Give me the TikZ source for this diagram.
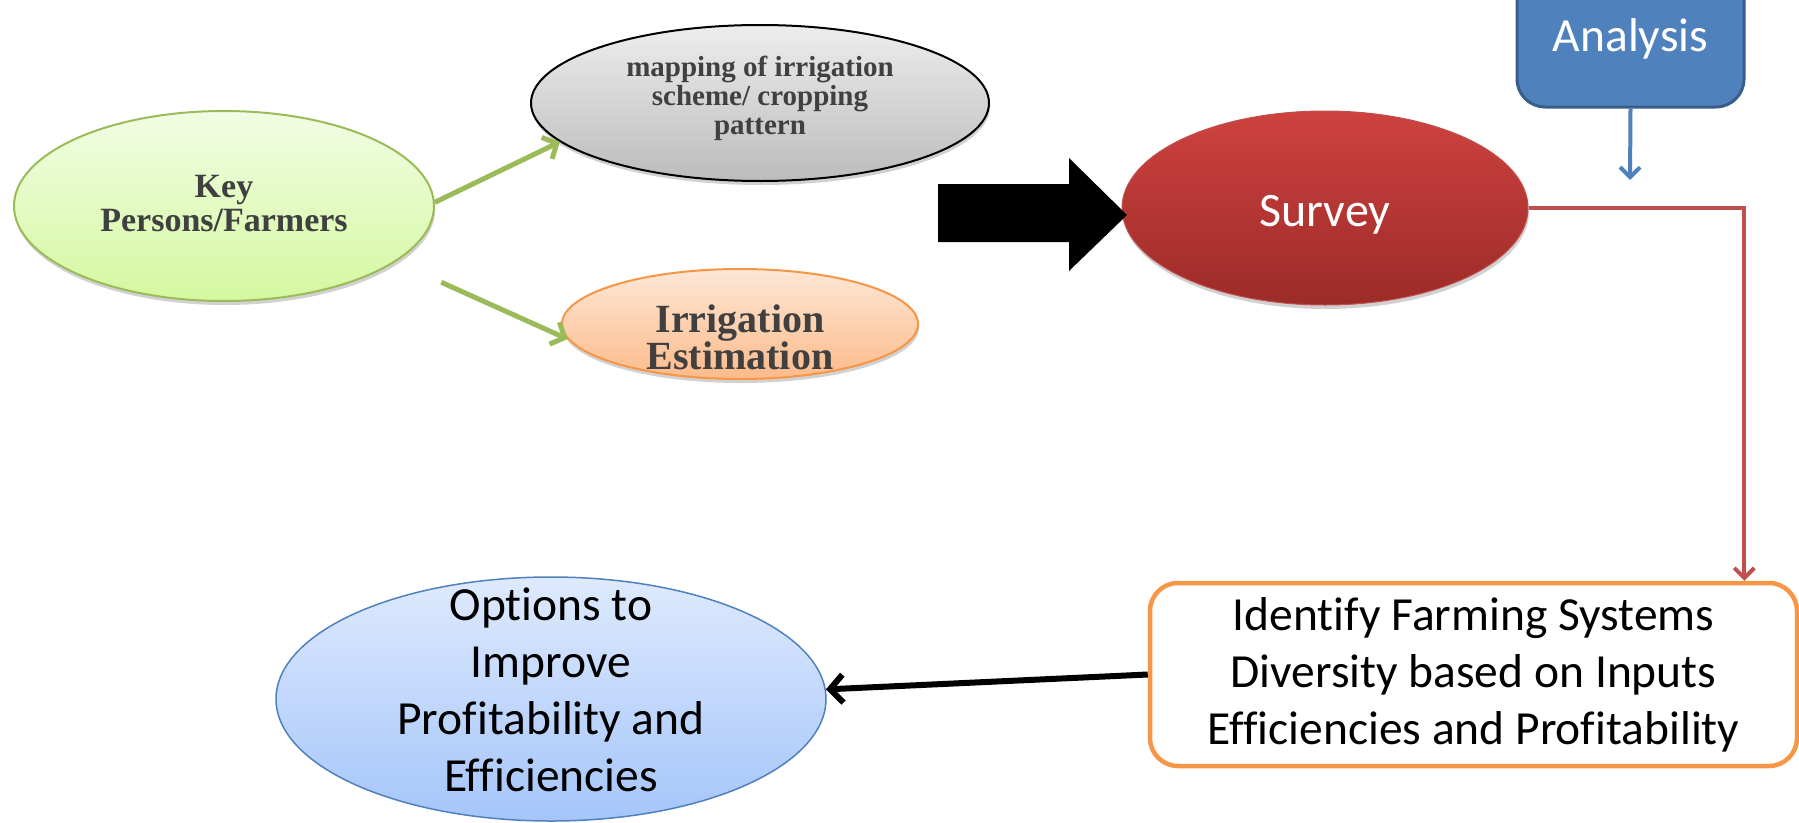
\documentclass[tikz,border=0pt]{standalone}
\usepackage{fontspec}
\setmainfont{Liberation Serif}
\newfontfamily\calibri[Ligatures=NoCommon]{Carlito}
\usetikzlibrary{arrows.meta,shapes.geometric,shadows,calc}
\definecolor{keytop}{HTML}{F2FDE4}
\definecolor{keybot}{HTML}{D4F8A0}
\definecolor{keyline}{HTML}{9BBB59}
\definecolor{maptop}{HTML}{EDEDED}
\definecolor{mapbot}{HTML}{BCBCBC}
\definecolor{irrtop}{HTML}{FDE7D6}
\definecolor{irrbot}{HTML}{FCBB8A}
\definecolor{orangeline}{HTML}{F79646}
\definecolor{survtop}{HTML}{CE423F}
\definecolor{survbot}{HTML}{9C2B28}
\definecolor{redline}{HTML}{C0504D}
\definecolor{opttop}{HTML}{DEEAFD}
\definecolor{optbot}{HTML}{A5C5FA}
\definecolor{optline}{HTML}{4F81BD}
\definecolor{anafill}{HTML}{4F81BD}
\definecolor{analine}{HTML}{385D8A}
\definecolor{darktext}{HTML}{404040}
\begin{document}
\begin{tikzpicture}[x=1pt,y=-1pt,
  blob/.style={ellipse, inner sep=0pt},
  softshadow/.style={drop shadow={shadow xshift=1pt, shadow yshift=-4pt, opacity=0.18, fill=black}},
  sertext/.style={text=darktext, align=center, inner sep=0pt},
  caltext/.style={font=\calibri\fontsize{47.5}{57}\selectfont, align=center, inner sep=0pt},
  greenarrow/.style={draw=keyline, line width=5pt, -{Straight Barb[length=11pt,width=24pt]}},
  bluearrow/.style={draw=anafill, line width=4pt, -{Straight Barb[length=10pt,width=20pt]}},
  redarrow/.style={draw=redline, line width=4pt, -{Straight Barb[length=10pt,width=20pt]}},
  blackarrow/.style={draw=black, line width=6pt, -{Straight Barb[length=13pt,width=28pt]}}
]
\useasboundingbox (0,0) rectangle (1799,822);
\clip (0,0) rectangle (1799,822);

% Key persons
\node[blob, softshadow, minimum width=420, minimum height=190, top color=keytop, bottom color=keybot, draw=keyline, line width=2pt,
  label={[sertext, font=\bfseries\fontsize{34}{34}\selectfont, yshift=2pt]center:{Key\\Persons/Farmers}}] (key) at (224,206) {};

% mapping
\node[blob, softshadow, minimum width=458, minimum height=156, top color=maptop, bottom color=mapbot, draw=black, line width=2pt,
  label={[sertext, font=\bfseries\fontsize{29}{29}\selectfont, yshift=5pt]center:{mapping of irrigation\\scheme/ cropping\\pattern}}] (mapping) at (760,103) {};

% irrigation estimation
\node[blob, softshadow, minimum width=356, minimum height=110, top color=irrtop, bottom color=irrbot, draw=orangeline, line width=2pt,
  label={[sertext, font=\bfseries\fontsize{40}{37}\selectfont, yshift=-13pt]center:{Irrigation\\Estimation}}] (irrig) at (740,324) {};

% survey
\node[blob, softshadow, minimum width=406, minimum height=194, top color=survtop, bottom color=survbot, draw=redline, line width=1pt,
  label={[caltext, text=white, font=\calibri\fontsize{48}{50}\selectfont, yshift=-7pt]center:{Survey}}] (survey) at (1325,208) {};

% analysis
\node[rectangle, rounded corners=28pt, minimum width=227, minimum height=136, fill=anafill, draw=analine, line width=3pt,
  caltext, text=white, font=\calibri\fontsize{47.5}{50}\selectfont] (analysis) at (1630.5,39) {Analysis};

% identify
\node[rectangle, rounded corners=28pt, minimum width=647, minimum height=183, fill=white, draw=orangeline, line width=4.5pt,
  caltext] (identify) at (1473.5,674.5) {Identify Farming Systems\\Diversity based on Inputs\\Efficiencies and Profitability};

% options
\node[blob, minimum width=550, minimum height=244, top color=opttop, bottom color=optbot, draw=optline, line width=1.5pt,
  label={[caltext, yshift=9pt]center:{Options to\\Improve\\Profitability and\\Efficiencies}}] (options) at (551,699) {};

% big black block arrow
\fill[black] (938,184) -- (1069,184) -- (1069,158) -- (1127,215) -- (1069,271) -- (1069,242) -- (938,242) -- cycle;

% connectors
\draw[greenarrow] (key.1) -- (mapping.191);
\draw[greenarrow, shorten <=50pt] (key.-18) -- (irrig.185);
\coordinate (atip) at (1630,180);
\draw[bluearrow] (analysis.south) -- (atip);
\draw[redarrow] (survey.east) -| ([xshift=-55pt]identify.north east);
\draw[blackarrow] (identify.west) -- (options.2);
\end{tikzpicture}
\end{document}
